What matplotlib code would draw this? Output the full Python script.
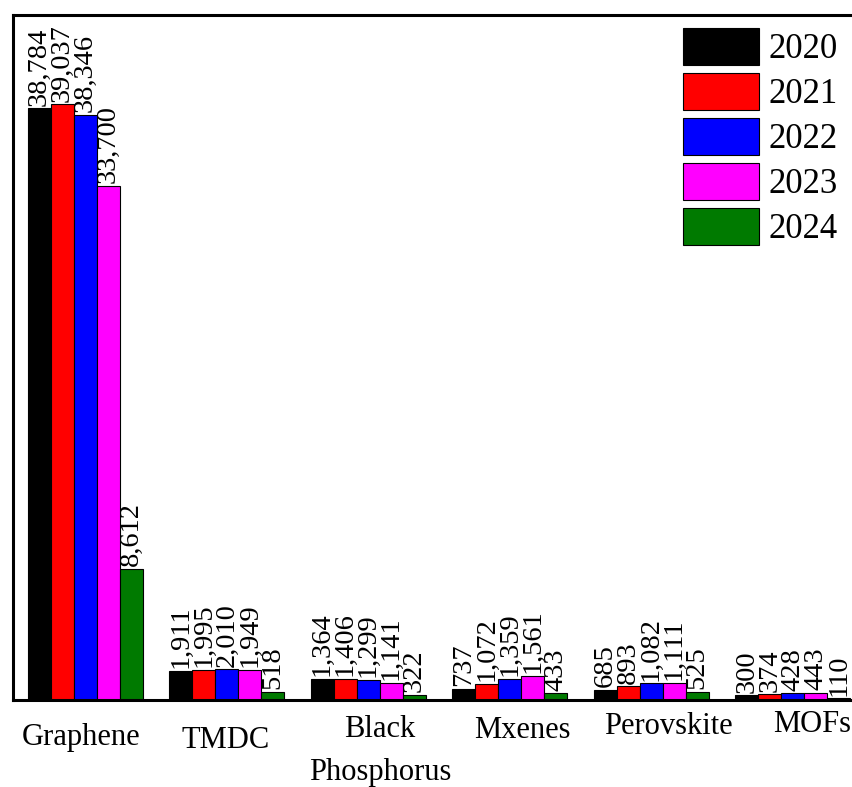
import numpy as np
import matplotlib
matplotlib.use('Agg')
import matplotlib.pyplot as plt

# categorias y valores por año
materiales = ['Graphene', 'TMDC', 'Black\nPhosphorus', 'Mxenes', 'Perovskite', 'MOFs']
anios = ['2020', '2021', '2022', '2023', '2024']
v2020 = [38784, 1911, 1364, 737, 685, 300]
v2021 = [39037, 1995, 1406, 1072, 893, 374]
v2022 = [38346, 2010, 1299, 1359, 1082, 428]
v2023 = [33700, 1949, 1141, 1561, 1111, 443]
v2024 = [8612, 518, 322, 433, 525, 110]
colores = ['#000000', '#ff0000', '#0000ff', '#ff00ff', '#007a00']

# desplazamiento (pixeles) de cada etiqueta respecto al centro del grupo
dx_etq = [-4, -1, 12, 13, 17, 19]
dy_etq = [37, 40, 51, 30, 27, 25]

plt.rcParams['font.family'] = ['Liberation Serif', 'DejaVu Serif']

fig = plt.figure(figsize=(8.52, 7.87), dpi=100)
# el eje se sale por la derecha, como en la imagen original
ax = fig.add_axes([13/852, 87/787, 865/852, 685/787])

x = np.arange(len(materiales))
w = 0.1625
series = [v2020, v2021, v2022, v2023, v2024]
for i, (vals, c, a) in enumerate(zip(series, colores, anios)):
    b = ax.bar(x + (i - 2)*w, vals, w, color=c, edgecolor='black', linewidth=0.8, label=a)
    ax.bar_label(b, labels=['{:,}'.format(v) for v in vals], rotation=90,
                 padding=2, fontsize=20.5)

ax.set_xlim(-0.51, -0.51 + 865/141.5)
ax.set_ylim(0, 44900)
ax.set_yticks([])
ax.set_xticks([])

# etiquetas de categoria colocadas a mano
for xi, nombre, dx, dy in zip(x, materiales, dx_etq, dy_etq):
    ax.annotate(nombre, xy=(xi, 0), xycoords=ax.get_xaxis_transform(),
                xytext=(dx, -dy), textcoords='offset pixels',
                ha='center', va='center', fontsize=22, linespacing=1.65,
                annotation_clip=False)

for s in ['left', 'top', 'bottom']:
    ax.spines[s].set_linewidth(2.2)
ax.spines['right'].set_visible(False)

ax.legend(loc='upper left', bbox_to_anchor=(683/852, 1 - 28/787), bbox_transform=fig.transFigure,
          frameon=False, fontsize=25, handlelength=2.2, handleheight=1.25,
          handletextpad=0.25, labelspacing=0.2, borderpad=0, borderaxespad=0)

fig.savefig('out.png', dpi=100)
